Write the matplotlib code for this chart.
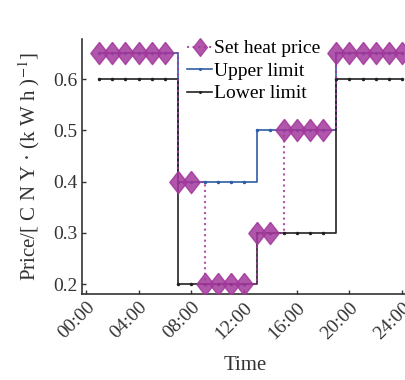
import numpy as np
import matplotlib.pyplot as plt
import matplotlib.transforms as mtransforms

plt.rcParams['font.family'] = ['Liberation Serif', 'DejaVu Serif']
plt.rcParams['mathtext.fontset'] = 'stix'

# hourly data (hour 1..24)
hours = list(range(1, 25))
set_price = [0.65]*6 + [0.4]*2 + [0.2]*4 + [0.3]*2 + [0.5]*4 + [0.65]*6
upper = [0.65]*6 + [0.4]*6 + [0.5]*6 + [0.65]*6
lower = [0.6]*6 + [0.2]*6 + [0.3]*6 + [0.6]*6
xticks = [0, 4, 8, 12, 16, 20, 24]
xlabels = ['00:00', '04:00', '08:00', '12:00', '16:00', '20:00', '24:00']
yticks = [0.2, 0.3, 0.4, 0.5, 0.6]

purple = '#a2389c'
blue = '#2f5ea6'
txt = '#333333'

# slightly tall diamond like the original
diamond = [(0, 1), (0.78, 0), (0, -1), (-0.78, 0), (0, 1)]

fig = plt.figure(figsize=(4.06, 3.8), dpi=100)
ax = fig.add_axes([0.202, 0.2263, 0.8047, 0.671])

ax.plot(hours, set_price, drawstyle='steps-post', linestyle=':', color=purple,
        linewidth=1.5, marker=diamond, markersize=16, markerfacecolor=purple,
        markeredgecolor=purple, alpha=0.85, label='Set heat price', zorder=3)
ax.plot(hours, upper, drawstyle='steps-post', color=blue, linewidth=1.2,
        marker='.', markersize=3, label='Upper limit', zorder=2)
ax.plot(hours, lower, drawstyle='steps-post', color='#222222', linewidth=1.2,
        marker='.', markersize=3, label='Lower limit', zorder=2)

ax.set_xlim(-0.3, 24.5)
ax.set_ylim(0.1805, 0.678)
ax.set_xticks(xticks)
ax.set_xticklabels(xlabels, rotation=45, ha='right', rotation_mode='anchor',
                   fontsize=14, color=txt)
offset = mtransforms.ScaledTranslation(8/100, 0, fig.dpi_scale_trans)
for lab in ax.get_xticklabels():
    lab.set_transform(lab.get_transform() + offset)
ax.set_yticks(yticks)
ax.set_yticklabels(['0.2', '0.3', '0.4', '0.5', '0.6'], fontsize=14, color=txt)
ax.tick_params(direction='in', length=3, width=1, color='#333333')

for s in ['top', 'right']:
    ax.spines[s].set_visible(False)
for s in ['left', 'bottom']:
    ax.spines[s].set_linewidth(1.2)
    ax.spines[s].set_color('#333333')

ax.set_xlabel('Time', fontsize=15, color=txt, labelpad=10)
ax.set_ylabel('Price/[ C N Y · (k W h )$^{-1}$]', fontsize=15, color=txt,
              labelpad=8)

ax.legend(loc='upper left', bbox_to_anchor=(0.28, 1.05), frameon=False,
          fontsize=14, handlelength=1.3, handletextpad=0.1, labelspacing=0.25,
          borderpad=0.2, markerscale=0.8)

fig.savefig('out.png', dpi=100)
